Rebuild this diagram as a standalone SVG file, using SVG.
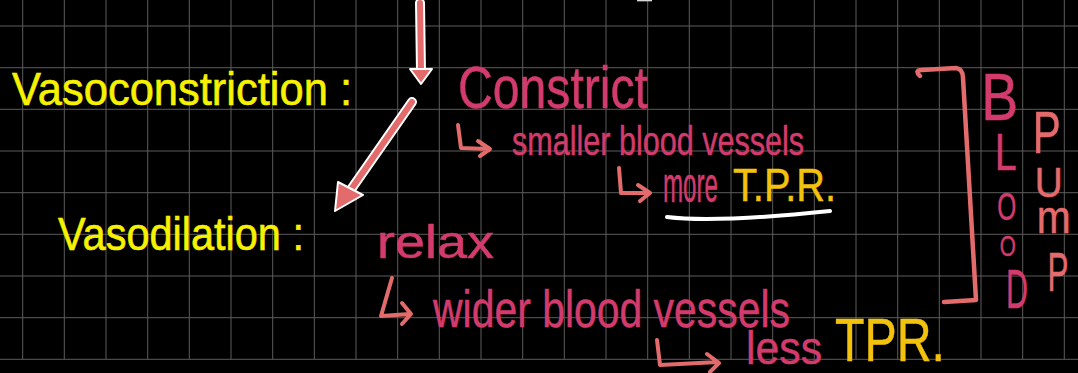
<svg xmlns="http://www.w3.org/2000/svg" width="1078" height="373" viewBox="0 0 1078 373">
  <style>
    .hand { font-family: "Liberation Sans", Arial, sans-serif; font-weight: normal; }
    .yellow { fill: #f6f200; stroke: #f6f200; stroke-width: 0.6; }
    .pink { fill: #d43b6d; stroke: #d43b6d; stroke-width: 0.5; }
    .gold { fill: #f2c20c; stroke: #f2c20c; stroke-width: 0.5; }
    .salmonTxt { fill: #e46a6c; stroke: #e46a6c; stroke-width: 0.5; }
    .grid { stroke: #5c5c5c; stroke-width: 1; fill: none; }
    .hook { stroke: #e36b6b; stroke-width: 4; fill: none; stroke-linecap: round; stroke-linejoin: round; }
    .halo { stroke: #ffffff; stroke-width: 10; fill: none; stroke-linecap: round; }
    .shaft { stroke: #e36b6b; stroke-width: 6; fill: none; stroke-linecap: round; }
    .head { fill: #e36b6b; stroke: #ffffff; stroke-width: 2; stroke-linejoin: round; }
  </style>

  <!-- background and grid paper -->
  <rect x="0" y="0" width="1078" height="373" fill="#000000"/>
  <g id="grid" class="grid">
    <path d="M0,26H1078 M0,67.7H1078 M0,109.3H1078 M0,151H1078 M0,192.7H1078 M0,234.3H1078 M0,276H1078 M0,317.7H1078 M0,359.3H1078"/>
    <path d="M22.7,0V359.3 M64.3,0V359.3 M106,0V359.3 M147.7,0V359.3 M189.3,0V359.3 M231,0V359.3 M272.7,0V359.3 M314.3,0V359.3 M356,0V359.3 M397.7,0V359.3 M439.3,0V359.3 M481,0V359.3 M522.7,0V359.3 M564.3,0V359.3 M606,0V359.3 M647.7,0V359.3 M689.3,0V359.3 M731,0V359.3 M772.7,0V359.3 M814.3,0V359.3 M856,0V359.3 M897.7,0V359.3 M939.3,0V359.3 M981,0V359.3 M1022.7,0V359.3 M1064.3,0V359.3"/>
  </g>
  <path d="M637,0.6H652" stroke="#d8d8d8" stroke-width="1.5"/>

  <!-- headings -->
  <g id="vasoconstriction">
    <text class="hand yellow" x="12" y="105" font-size="47" textLength="340" lengthAdjust="spacingAndGlyphs">Vasoconstriction :</text>
  </g>
  <g id="vasodilation">
    <text class="hand yellow" x="58" y="250" font-size="47" textLength="246" lengthAdjust="spacingAndGlyphs">Vasodilation :</text>
  </g>

  <!-- constrict branch -->
  <g id="constrict">
    <text class="hand pink" x="458" y="108" font-size="60" textLength="190" lengthAdjust="spacingAndGlyphs">Constrict</text>
  </g>
  <g id="smaller-vessels">
    <text class="hand pink" x="512" y="155" font-size="40" textLength="292" lengthAdjust="spacingAndGlyphs">smaller blood vessels</text>
  </g>
  <g id="more-tpr">
    <text class="hand pink" x="663" y="202" font-size="50" textLength="55" lengthAdjust="spacingAndGlyphs">more</text>
    <text class="hand gold" x="733" y="201" font-size="46" textLength="103" lengthAdjust="spacingAndGlyphs">T.P.R.</text>
    <path d="M667,217 Q715,223 830,211" stroke="#ffffff" stroke-width="4" fill="none" stroke-linecap="round"/>
  </g>

  <!-- relax branch -->
  <g id="relax">
    <text class="hand pink" x="377" y="258" font-size="46" textLength="117" lengthAdjust="spacingAndGlyphs">relax</text>
  </g>
  <g id="wider-vessels">
    <text class="hand pink" x="433" y="327" font-size="52" textLength="357" lengthAdjust="spacingAndGlyphs">wider blood vessels</text>
  </g>
  <g id="less-tpr">
    <text class="hand pink" x="746" y="364" font-size="46" textLength="76" lengthAdjust="spacingAndGlyphs">less</text>
    <text class="hand gold" x="835" y="361" font-size="62" textLength="110" lengthAdjust="spacingAndGlyphs">TPR.</text>
  </g>

  <!-- bracket with vertical BLOOD / PUMP -->
  <g id="blood-pump">
    <path d="M920,76 Q914,70 922,70 L956,68 Q963,69 963,78 L976,300 L944,302" stroke="#e36b6b" stroke-width="4.5" fill="none" stroke-linecap="round" stroke-linejoin="round"/>
    <text class="hand pink" text-anchor="middle">
      <tspan x="1002" y="120" font-size="66" textLength="37" lengthAdjust="spacingAndGlyphs">B</tspan>
      <tspan x="1008" y="170" font-size="52" textLength="22" lengthAdjust="spacingAndGlyphs">L</tspan>
      <tspan x="1009" y="220" font-size="38" textLength="19" lengthAdjust="spacingAndGlyphs">O</tspan>
      <tspan x="1010" y="256" font-size="30" textLength="16" lengthAdjust="spacingAndGlyphs">O</tspan>
      <tspan x="1017" y="308" font-size="56" textLength="22" lengthAdjust="spacingAndGlyphs">D</tspan>
    </text>
    <text class="hand salmonTxt" text-anchor="middle">
      <tspan x="1049" y="153" font-size="60" textLength="28" lengthAdjust="spacingAndGlyphs">P</tspan>
      <tspan x="1051" y="197" font-size="42" textLength="28" lengthAdjust="spacingAndGlyphs">U</tspan>
      <tspan x="1056" y="233" font-size="46" textLength="34" lengthAdjust="spacingAndGlyphs">m</tspan>
      <tspan x="1058" y="291" font-size="56" textLength="21" lengthAdjust="spacingAndGlyphs">P</tspan>
    </text>
  </g>

  <!-- arrows and hook arrows -->
  <g id="connectors">
    <path class="halo" d="M420,3 L421,72"/>
    <path class="shaft" d="M420,3 L421,72"/>
    <polygon class="head" points="410,69 432,69 421,84"/>

    <path class="halo" d="M412,102 L352,188"/>
    <path class="shaft" d="M412,102 L352,188"/>
    <polygon class="head" points="338,182 363,195 335,211"/>

    <path class="hook" d="M458,125 L461,148 L488,149 M478,141 L490,149 L480,156"/>
    <path class="hook" d="M619,168 L621,193 L648,193 M638,185 L650,193 L640,201"/>
    <path class="hook" d="M392,278 L381,316 L410,314 M402,303 L411,314 L402,324"/>
    <path class="hook" d="M657,340 L660,365 L718,362 M707,354 L719,363 L710,372"/>
  </g>
</svg>
